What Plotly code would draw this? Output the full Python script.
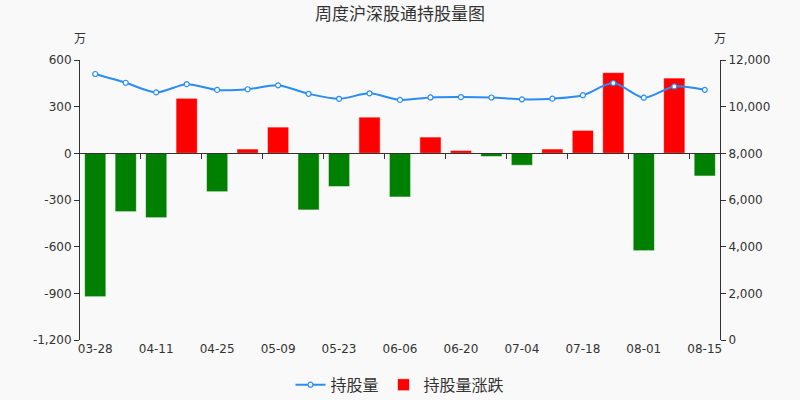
import plotly.graph_objects as go

# weekly data, values in 万股
dates = ["03-28", "04-04", "04-11", "04-18", "04-25", "05-02", "05-09",
         "05-16", "05-23", "05-30", "06-06", "06-13", "06-20", "06-27",
         "07-04", "07-11", "07-18", "07-25", "08-01", "08-08", "08-15"]
holdings = [11400, 11025, 10611, 10965, 10718, 10746, 10915,
            10551, 10337, 10570, 10289, 10394, 10413, 10392,
            10315, 10343, 10491, 11010, 10384, 10868, 10722]
changes = [-922, -375, -414, 354, -247, 28, 169,
           -364, -214, 233, -281, 105, 19, -21,
           -77, 28, 148, 519, -626, 484, -146]

left_ticks = [-1200, -900, -600, -300, 0, 300, 600]
right_ticks = [0, 2000, 4000, 6000, 8000, 10000, 12000]

idx = list(range(len(dates)))
label_idx = idx[::2]
between_idx = [i - 0.5 for i in label_idx[1:]]

font_cn = "Noto Sans CJK SC"
txt = "#333333"

fig = go.Figure()

fig.add_trace(go.Scatter(
    x=idx, y=holdings, name="持股量", mode="lines+markers",
    line=dict(color="#2a8cf5", width=2, shape="spline", smoothing=0.8),
    marker=dict(size=5, color="white", line=dict(color="#2a8cf5", width=1.2)),
    xaxis="x2", yaxis="y2",
))
fig.add_trace(go.Bar(
    x=idx, y=[v if v >= 0 else None for v in changes], name="持股量涨跌",
    marker=dict(color="#ff0000", line=dict(color="rgba(255,255,255,0.6)", width=1)),
))
fig.add_trace(go.Bar(
    x=idx, y=[v if v < 0 else None for v in changes], name="持股量涨跌",
    showlegend=False,
    marker=dict(color="#008000", line=dict(color="rgba(255,255,255,0.6)", width=1)),
))

fig.update_layout(
    width=800, height=400,
    margin=dict(l=80, r=80, t=60, b=60, autoexpand=False),
    paper_bgcolor="#f9f9f9", plot_bgcolor="#f9f9f9",
    barmode="relative", bargap=0.3,
    font=dict(family="DejaVu Sans", size=12, color=txt),
    title=dict(text="周度沪深股通持股量图", x=0.5, xanchor="center", y=0.965,
               yanchor="middle", font=dict(family=font_cn, size=17, color=txt)),
    xaxis=dict(range=[-0.5, 20.5], tickvals=label_idx,
               ticktext=[dates[i] for i in label_idx],
               showline=False, showgrid=False, zeroline=False, ticks=""),
    xaxis2=dict(range=[-0.5, 20.5], overlaying="x", anchor="free", position=2 / 3,
                tickvals=between_idx, showticklabels=False, ticks="outside",
                ticklen=5, tickcolor=txt, showline=True, linecolor=txt,
                linewidth=1, showgrid=False, zeroline=False),
    yaxis=dict(range=[-1200, 600], tickvals=left_ticks,
               ticktext=[f"{v:,}" for v in left_ticks],
               showline=True, linecolor=txt, ticks="outside", ticklen=5,
               tickcolor=txt, showgrid=False, zeroline=False),
    yaxis2=dict(range=[0, 12000], tickvals=right_ticks,
                ticktext=[f"{v:,}" for v in right_ticks],
                overlaying="y", side="right", anchor="free", position=1,
                showline=True, linecolor=txt, ticks="outside", ticklen=5,
                tickcolor=txt, showgrid=False, zeroline=False),
    legend=dict(orientation="h", x=0.5, xanchor="center", y=-0.16,
                yanchor="middle", font=dict(family=font_cn, size=16, color=txt),
                traceorder="normal"),
    annotations=[
        dict(text="万", xref="paper", yref="paper", x=0, y=1.079,
             xanchor="center", yanchor="middle",
             showarrow=False, font=dict(family=font_cn, size=12, color=txt)),
        dict(text="万", xref="paper", yref="paper", x=1, y=1.079,
             xanchor="center", yanchor="middle",
             showarrow=False, font=dict(family=font_cn, size=12, color=txt)),
    ],
)

fig.write_html("out.html", config={"displayModeBar": False},
               post_script="document.body.style.margin='0';")
